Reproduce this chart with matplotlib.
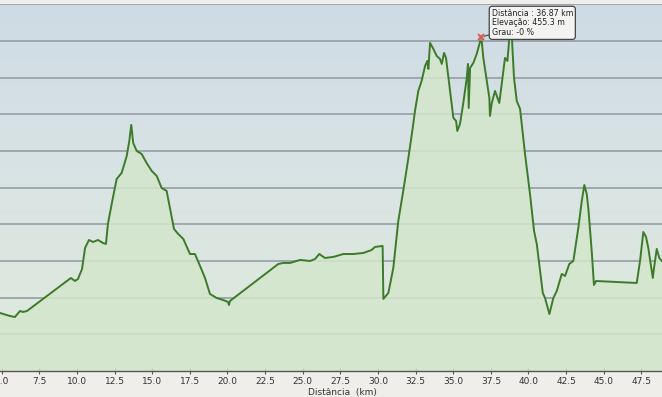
import numpy as np
import matplotlib
matplotlib.use("Agg")
import matplotlib.pyplot as plt
from matplotlib.colors import LinearSegmentedColormap

# Elevation profile (distance in km, elevation in m)
distance_km = [4.89, 5.55, 5.88, 6.22, 6.42, 6.68, 9.60, 9.87, 10.07, 10.34, 10.54, 10.67, 10.80,
               11.07, 11.40, 11.73, 11.93, 12.06, 12.31, 12.64, 12.97, 13.31, 13.48, 13.61, 13.74,
               13.97, 14.30, 14.63, 14.97, 15.30, 15.63, 15.96, 16.18, 16.45, 16.73, 17.07, 17.51,
               17.84, 18.18, 18.51, 18.84, 19.29, 19.72, 20.04, 20.10, 20.17, 23.38, 23.71, 24.16,
               24.82, 25.49, 25.82, 26.10, 26.48, 27.03, 27.70, 28.36, 29.03, 29.58, 29.80, 30.31,
               30.36, 30.69, 31.02, 31.35, 31.68, 32.02, 32.31, 32.46, 32.68, 32.90, 33.13, 33.28,
               33.35, 33.46, 33.68, 33.90, 34.12, 34.24, 34.39, 34.52, 34.79, 35.01, 35.19, 35.27,
               35.45, 35.67, 35.90, 35.98, 36.03, 36.12, 36.34, 36.56, 36.87, 37.00, 37.23, 37.40,
               37.44, 37.56, 37.78, 38.06, 38.33, 38.44, 38.60, 38.73, 38.89, 39.04, 39.22, 39.44,
               39.77, 40.10, 40.37, 40.55, 40.77, 40.95, 41.10, 41.39, 41.65, 41.88, 42.21, 42.43,
               42.71, 42.98, 43.31, 43.54, 43.71, 43.87, 43.98, 44.20, 44.35, 44.49, 47.19, 47.41,
               47.63, 47.81, 47.96, 48.26, 48.34, 48.52, 48.69, 48.87]
elevation_m = [79.1, 75.0, 73.6, 81.8, 80.5, 81.8, 126.8, 122.7, 125.5, 139.1, 167.7, 173.2, 178.6,
               175.9, 178.6, 174.5, 173.2, 200.5, 227.7, 261.8, 270.0, 293.2, 313.6, 335.5, 310.9,
               300.0, 295.9, 283.6, 272.7, 265.9, 249.5, 245.5, 222.3, 193.6, 186.8, 180.0, 159.5,
               159.5, 143.2, 126.8, 105.0, 99.5, 96.8, 94.1, 90.0, 95.5, 145.9, 147.3, 147.3,
               151.4, 150.0, 152.7, 159.5, 154.1, 155.5, 159.5, 159.5, 160.9, 165.0, 169.1, 170.5,
               98.2, 106.4, 140.5, 204.5, 245.5, 290.4, 331.4, 354.5, 381.8, 395.4, 415.9, 422.7,
               411.8, 447.3, 439.1, 429.5, 425.4, 418.6, 433.6, 426.8, 381.8, 345.0, 340.9, 327.3,
               336.8, 365.4, 399.5, 418.6, 358.6, 413.2, 420.0, 432.3, 455.3, 426.8, 395.4, 372.3,
               347.7, 365.4, 381.8, 365.4, 409.1, 426.8, 422.7, 454.1, 456.8, 399.5, 368.2, 357.3,
               295.9, 241.4, 190.9, 173.2, 136.4, 106.4, 99.5, 77.7, 99.5, 109.1, 132.3, 129.5,
               145.9, 150.0, 195.0, 231.8, 253.6, 241.4, 220.9, 163.6, 117.3, 122.7, 120.0, 150.0,
               189.5, 182.7, 167.7, 126.8, 140.5, 166.4, 154.1, 150.0]

x_ticks = [5.0, 7.5, 10.0, 12.5, 15.0, 17.5, 20.0, 22.5, 25.0, 27.5, 30.0, 32.5, 35.0,
           37.5, 40.0, 42.5, 45.0, 47.5]
grid_levels = [50, 100, 150, 200, 250, 300, 350, 400, 450, 500]

tip_distance = 36.87
tip_elevation = 455.3
tip_text = "Distância : 36.87 km\nElevação: 455.3 m\nGrau: -0 %"

fig = plt.figure(figsize=(6.62, 3.97), dpi=100, facecolor="#efeeea")
ax = fig.add_axes([0, 26 / 397, 1, 367.5 / 397])
xmin, xmax = 4.89, 48.87
ymin, ymax = 0, 501
ax.set_xlim(xmin, xmax)
ax.set_ylim(ymin, ymax)

# background gradient: bluish at top to greenish at bottom
bg = LinearSegmentedColormap.from_list("bg", ["#e0ebdc", "#d9e4e4", "#cfdbe5"])
grad = np.linspace(0, 1, 256).reshape(-1, 1)
ax.imshow(grad, cmap=bg, aspect="auto", extent=[xmin, xmax, ymin, ymax],
          origin="lower", zorder=0)

# grid lines
for g in grid_levels:
    ax.axhline(g, color="#9aa3aa", lw=1.3, zorder=1)

# fill under profile
ax.fill_between(distance_km, elevation_m, 0, color="#d4e6cc", alpha=0.85, zorder=2, lw=0)
ax.plot(distance_km, elevation_m, color="#3d7a2a", lw=1.4, zorder=3)

# axes styling
for s in ["top", "right", "left"]:
    ax.spines[s].set_visible(False)
ax.spines["bottom"].set_color("#555555")
ax.spines["bottom"].set_linewidth(1.0)
ax.set_yticks([])
ax.set_xticks(x_ticks)
ax.set_xticklabels([f"{t:.1f}" for t in x_ticks])
ax.tick_params(axis="x", direction="inout", length=5, width=0.8, color="#555555",
               labelsize=6.5, labelcolor="#333333", pad=2)
ax.set_xlabel("Distância  (km)", fontsize=6.5, color="#333333", labelpad=1)
ax.xaxis.set_label_coords(0.518, -0.045)

# tooltip
ax.plot([tip_distance], [tip_elevation], marker="x", color="#d9534f", ms=5, mew=1.2, zorder=5)
ax.plot([tip_distance], [tip_elevation], marker="o", color="#e8a0a0", ms=4, alpha=0.5, zorder=4)
ax.annotate(tip_text, xy=(tip_distance, tip_elevation), xytext=(37.55, 494),
            textcoords="data", ha="left", va="top", fontsize=5.7, color="#222222",
            linespacing=1.1,
            bbox=dict(boxstyle="round,pad=0.3,rounding_size=0.4", fc="#f3f4f2", ec="#444444", lw=0.9),
            arrowprops=dict(arrowstyle="-", color="#444444", lw=0.8, shrinkA=0, shrinkB=2),
            zorder=6)

fig.savefig("out.png", dpi=100, facecolor=fig.get_facecolor())
